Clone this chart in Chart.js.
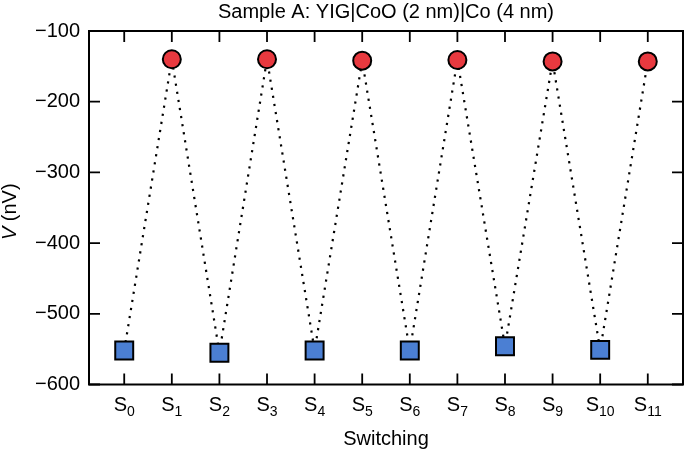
<!DOCTYPE html>
<html>
<head>
<meta charset="utf-8">
<script src="https://cdn.jsdelivr.net/npm/chart.js@4/dist/chart.umd.min.js"></script>
<style>
  html, body { margin: 0; padding: 0; background: #fff; overflow: hidden; }
  #wrap { width: 685px; height: 451px; position: relative; }
  canvas { display: block; }
</style>
</head>
<body>
<div id="wrap"><canvas id="c"></canvas></div>
<script>
// 스위칭 상태별 전압 — 그림에서 읽은 값
const titleText = "Sample A: YIG|CoO (2 nm)|Co (4 nm)";
const switchIdx = [0, 1, 2, 3, 4, 5, 6, 7, 8, 9, 10, 11];
const switchSubs = ["0", "1", "2", "3", "4", "5", "6", "7", "8", "9", "10", "11"];
const highIdx = [1, 3, 5, 7, 9, 11];
const highV = [-140, -140, -142, -141, -143, -143];
const lowIdx = [0, 2, 4, 6, 8, 10];
const lowV = [-552, -555, -552, -552, -546, -551];
const yTicks = [-600, -500, -400, -300, -200, -100];

const FONT = "'Liberation Sans', Arial, Helvetica, sans-serif";
const RED = "#e8393f", BLUE = "#4b7fd3";

const pts = (xs, ys) => xs.map((x, i) => ({ x, y: ys[i] }));
const allPts = pts(highIdx, highV).concat(pts(lowIdx, lowV)).sort((a, b) => a.x - b.x);

// 틱은 안쪽, 4면 모두 / 아래첨자 라벨·축 제목·타이틀 직접 그림
const decor = {
  id: "decor",
  afterDraw(chart) {
    const { ctx, chartArea: a, scales: { x, y } } = chart;
    const T = 11;
    ctx.save();
    ctx.strokeStyle = "#000";
    ctx.lineWidth = 2;
    ctx.strokeRect(a.left, a.top, a.right - a.left, a.bottom - a.top);
    ctx.lineWidth = 1.8;
    ctx.beginPath();
    for (const v of switchIdx) {
      const px = x.getPixelForValue(v);
      ctx.moveTo(px, a.bottom); ctx.lineTo(px, a.bottom - T);
      ctx.moveTo(px, a.top); ctx.lineTo(px, a.top + T);
    }
    for (const v of yTicks) {
      const py = y.getPixelForValue(v);
      ctx.moveTo(a.left, py); ctx.lineTo(a.left + T, py);
      ctx.moveTo(a.right, py); ctx.lineTo(a.right - T, py);
    }
    ctx.stroke();

    ctx.fillStyle = "#000";
    ctx.textBaseline = "alphabetic";
    // x 라벨 S_n
    const big = "20px " + FONT, small = "14px " + FONT;
    switchIdx.forEach((v, i) => {
      const px = x.getPixelForValue(v);
      ctx.font = big; const wS = ctx.measureText("S").width;
      ctx.font = small; const wN = ctx.measureText(switchSubs[i]).width;
      const x0 = px - (wS + wN) / 2;
      ctx.font = big; ctx.textAlign = "left";
      ctx.fillText("S", x0, 411);
      ctx.font = small;
      ctx.fillText(switchSubs[i], x0 + wS, 416);
    });
    // x 제목
    ctx.font = big; ctx.textAlign = "center";
    ctx.fillText("Switching", (a.left + a.right) / 2, 445);
    // 타이틀
    ctx.fillText(titleText, (a.left + a.right) / 2, 18);
    // y 제목 (V 이탤릭)
    ctx.translate(16, (a.top + a.bottom) / 2 + 4);
    ctx.rotate(-Math.PI / 2);
    ctx.font = "italic " + big; const wV = ctx.measureText("V").width;
    ctx.font = big; const wR = ctx.measureText(" (nV)").width;
    const sx = -(wV + wR) / 2;
    ctx.textAlign = "left";
    ctx.font = "italic " + big; ctx.fillText("V", sx, 0);
    ctx.font = big; ctx.fillText(" (nV)", sx + wV, 0);
    ctx.restore();
  }
};

new Chart(document.getElementById("c"), {
  type: "scatter",
  data: {
    datasets: [
      { type: "line", data: allPts, borderColor: "#000", borderWidth: 2.2,
        borderDash: [2.2, 6], borderCapStyle: "butt", pointRadius: 0, fill: false, order: 2 },
      { data: pts(highIdx, highV), pointStyle: "circle", pointRadius: 9,
        backgroundColor: RED, borderColor: "#000", borderWidth: 2, order: 0 },
      { data: pts(lowIdx, lowV), pointStyle: "rect", pointRadius: 12.7,
        backgroundColor: BLUE, borderColor: "#000", borderWidth: 2, order: 0 },
    ],
  },
  options: {
    responsive: true, maintainAspectRatio: false, animation: false,
    layout: { autoPadding: false, padding: { top: 31, right: 2, left: 0, bottom: 0 } },
    plugins: { legend: { display: false }, tooltip: { enabled: false }, title: { display: false } },
    scales: {
      x: {
        type: "linear", min: -0.74, max: 11.74,
        ticks: { display: false }, grid: { display: false }, border: { display: false },
        afterFit: (s) => { s.height = 66.5; },
      },
      y: {
        min: -600, max: -100,
        afterBuildTicks: (s) => { s.ticks = yTicks.map((v) => ({ value: v })); },
        ticks: { color: "#000", padding: 9, font: { family: FONT, size: 20 },
          callback: (v) => String(v).replace("-", "\u2212") },
        grid: { display: false, drawTicks: false }, border: { display: false },
        afterFit: (s) => { s.width = 89; },
      },
    },
  },
  plugins: [decor],
});
</script>
</body>
</html>
